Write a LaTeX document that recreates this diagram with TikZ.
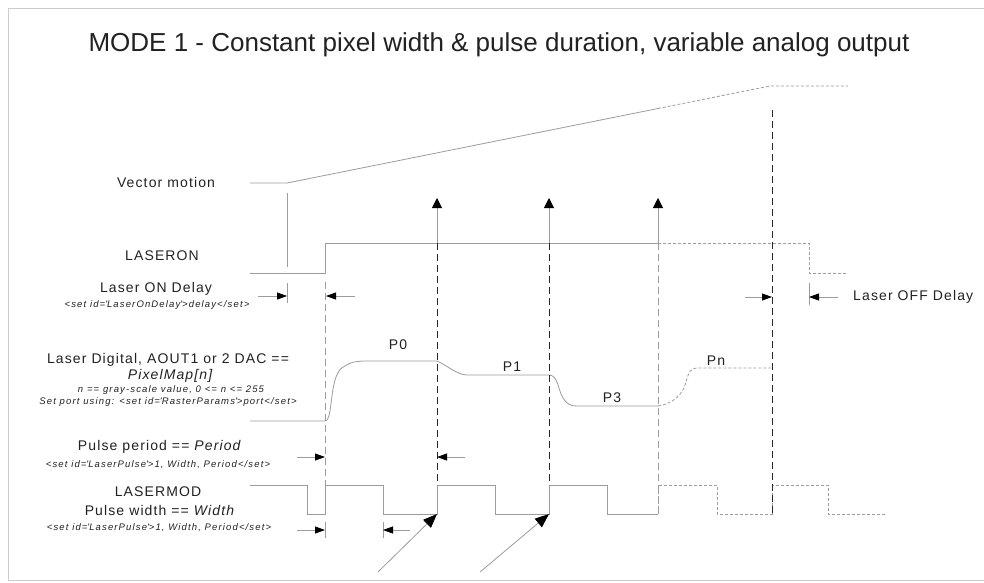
\documentclass[tikz,border=0pt]{standalone}
\usepackage{fontspec}
\setmainfont{Liberation Sans}
\newfontfamily\lblfont[LetterSpace=8]{Liberation Sans}
\newfontfamily\smfont[LetterSpace=12]{Liberation Sans}
\usetikzlibrary{arrows.meta}
\definecolor{sigc}{HTML}{9C9C9C}
\definecolor{txtc}{HTML}{222222}
\tikzset{
  sig/.style={draw=sigc, line width=0.8pt},
  dsig/.style={sig, dash pattern=on 3pt off 2pt},
  vdash/.style={draw=black!85, line width=0.9pt, dash pattern=on 7pt off 4pt},
  gdash/.style={draw=sigc, line width=0.9pt, dash pattern=on 7pt off 4pt},
  harr/.style={draw=sigc, line width=0.8pt, -{Triangle[length=10pt,width=7pt,color=black]}},
  varr/.style={draw=sigc, line width=0.8pt, -{Triangle[length=10pt,width=10pt,color=black]}},
  darr/.style={draw=sigc, line width=0.8pt, -{Triangle[length=14pt,width=11pt,color=black]}},
  lbl/.style={font=\lblfont\fontsize{14}{16}\selectfont, text=txtc, inner sep=0pt},
  sml/.style={font=\smfont\itshape\fontsize{9.5}{11}\selectfont, text=txtc, inner sep=0pt},
  frm/.style={draw=black!20, line width=0.8pt}
}
\begin{document}
\begin{tikzpicture}[x=1pt,y=-1pt]
\useasboundingbox (0,0) rectangle (984,582);
\fill[white] (0,0) rectangle (984,582);
\draw[frm] (984,8) -- (8,8) -- (8,580) -- (984,580);

% title
\node[font=\fontsize{26}{30}\selectfont, text=txtc, inner sep=0pt] (title) at (499,45)
  {MODE 1 - Constant pixel width \& pulse duration, variable analog output};

% left labels
\node[lbl] (vm) at (166,182) {Vector motion};
\node[lbl] (lon) at (162,256) {LASERON};
\node[lbl] (lond) at (156,289) {Laser ON Delay};
\node[sml] (londs) at (157,305) {<set id=\textquotesingle LaserOnDelay\textquotesingle>delay</set>};
\node[lbl] (ld1) at (168,360) {Laser Digital, AOUT1 or 2 DAC ==};
\node[lbl, font=\lblfont\itshape\fontsize{14}{16}\selectfont] (ld2) at (170,376) {PixelMap[n]};
\node[sml] (ld3) at (171,390) {n == gray-scale value, 0 <= n <= 255};
\node[sml] (ld4) at (168,402) {Set port using: <set id=\textquotesingle RasterParams\textquotesingle>port</set>};
\node[lbl] (pp) at (160,447) {Pulse period == \textit{Period}};
\node[sml] (pps) at (158,465) {<set id=\textquotesingle LaserPulse\textquotesingle>1, Width, Period</set>};
\node[lbl] (lm) at (158,492) {LASERMOD};
\node[lbl] (pw) at (160,510) {Pulse width == \textit{Width}};
\node[sml] (pws) at (159,528) {<set id=\textquotesingle LaserPulse\textquotesingle>1, Width, Period</set>};
\node[lbl, anchor=west] (loffd) at (853,297) {Laser OFF Delay};

% level labels
\node[lbl] (p0) at (398,345) {P0};
\node[lbl] (p1) at (512,367) {P1};
\node[lbl] (p3) at (612,398) {P3};
\node[lbl] (pn) at (716,361) {Pn};

% Vector motion
\draw[sig] (250,183) -- (287,183) -- (658,108.5);
\draw[dsig] (658,108.5) -- (770,86) -- (848,86);
\draw[sig] (287,193) -- (287,267);
\draw[sig] (287,283) -- (287,303);

% LASERON
\draw[sig] (250,273) -- (325,273) -- (325,243) -- (658,243);
\draw[dsig] (658,243) -- (809,243) -- (809,273) -- (848,273);

% ON delay arrows
\coordinate (ona) at (258,296); \coordinate (onb) at (287,296);
\coordinate (onc) at (355,296); \coordinate (ond) at (326,296);
\draw[harr] (ona) -- (onb);
\draw[harr] (onc) -- (ond);

% dashed start line
\draw[gdash] (325,282) -- (325,485);

% Laser digital waveform
\draw[sig] (250,421) -- (325,421)
  .. controls (334,421) and (328,372) .. (345,366)
  .. controls (352,362) .. (363,361) -- (437,361)
  .. controls (445,364) and (457,375) .. (467,375) -- (549,375)
  .. controls (558,375) and (558,390) .. (563,398)
  .. controls (567,404) and (570,406) .. (577,406) -- (658,406);
\draw[dsig] (658,406) .. controls (672,404) and (683,395) .. (686,382)
  .. controls (689,371) and (691,368) .. (697,368) -- (772,368);

% LASERMOD
\draw[sig] (250,485) -- (307,485) -- (307,514) -- (325,514) -- (325,485) -- (383,485)
  -- (383,514) -- (437,514) -- (437,485) -- (495,485) -- (495,514) -- (549,514)
  -- (549,485) -- (607,485) -- (607,514) -- (658,514);
\draw[dsig] (658,514) -- (658,485) -- (717,485) -- (717,514) -- (772,514) -- (772,485)
  -- (828,485) -- (828,514) -- (885,514);

% pixel boundaries
\coordinate (b1t) at (437,198); \coordinate (b1m) at (437,243); \coordinate (b1b) at (437,485);
\coordinate (b2t) at (549,198); \coordinate (b2m) at (549,243); \coordinate (b2b) at (549,485);
\coordinate (b3t) at (658,198); \coordinate (b3m) at (658,243); \coordinate (b3b) at (658,514);
\draw[varr] (b1m) -- (b1t);
\draw[vdash] (b1m) -- (b1b);
\draw[varr] (b2m) -- (b2t);
\draw[vdash] (b2m) -- (b2b);
\draw[varr] (b3m) -- (b3t);
\draw[gdash] (b3m) -- (b3b);
\draw[vdash] (772,110) -- (772,514);
\draw[varr, draw=none] (772,216) -- (772,202);

% OFF delay
\draw[sig] (809,283) -- (809,305);
\draw[harr] (745,297) -- (772,297);
\draw[harr] (838,297) -- (809,297);

% pulse period arrows
\draw[harr] (297,457) -- (325,457);
\draw[harr] (465,457) -- (437,457);

% pulse width arrows
\draw[sig] (325,522) -- (325,538);
\draw[sig] (383,522) -- (383,538);
\draw[harr] (297,530) -- (325,530);
\draw[harr] (410,530) -- (383,530);

% diagonal arrows
\draw[darr] (378,572) -- (437,514);
\draw[darr] (480,572) -- (549,514);
\end{tikzpicture}
\end{document}
